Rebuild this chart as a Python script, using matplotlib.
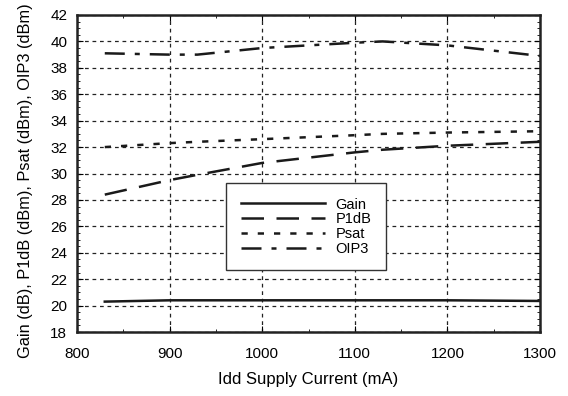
import matplotlib
matplotlib.use("Agg")
import matplotlib.pyplot as plt
from matplotlib.ticker import MultipleLocator

plt.rcParams['font.family'] = ['Liberation Sans', 'DejaVu Sans']

# data
idd = [830, 900, 930, 1000, 1100, 1130, 1200, 1300]
gain = [20.3, 20.4, 20.4, 20.4, 20.4, 20.4, 20.4, 20.35]
p1db = [28.4, 29.5, 29.9, 30.8, 31.6, 31.8, 32.1, 32.4]
psat = [32.0, 32.3, 32.4, 32.6, 32.9, 33.0, 33.1, 33.2]
oip3 = [39.1, 39.0, 39.0, 39.5, 39.9, 40.0, 39.7, 38.9]

fig = plt.figure(figsize=(5.68, 3.96), dpi=100)
ax = fig.add_axes([77 / 568, 1 - 332 / 396, 463 / 568, 317 / 396])

ax.plot(idd, gain, color='#1a1a1a', lw=1.8, ls='-', label='Gain')
ax.plot(idd, p1db, color='#1a1a1a', lw=1.8, ls=(0, (9, 5)), label='P1dB')
ax.plot(idd, psat, color='#1a1a1a', lw=1.8, ls=(0, (2.5, 4)), label='Psat')
ax.plot(idd, oip3, color='#1a1a1a', lw=1.8, ls=(0, (8, 4, 2, 4)), label='OIP3')

ax.set_xlim(800, 1300)
ax.set_ylim(18, 42)
ax.xaxis.set_major_locator(MultipleLocator(100))
ax.xaxis.set_minor_locator(MultipleLocator(50))
ax.yaxis.set_major_locator(MultipleLocator(2))
ax.yaxis.set_minor_locator(MultipleLocator(0.5))
ax.grid(True, which='major', color='#222222', ls=(0, (3, 3)), lw=0.9)
ax.tick_params(which='both', direction='in', top=True, right=True, labelsize=11)
ax.tick_params(which='major', length=4)
ax.tick_params(which='minor', length=2)
ax.tick_params(axis='x', which='major', pad=11)
ax.tick_params(axis='y', which='major', pad=7)
for s in ax.spines.values():
    s.set_linewidth(1.8)
    s.set_color('#222222')

ax.set_xlabel('Idd Supply Current (mA)', fontsize=12, labelpad=8)
ax.set_ylabel('Gain (dB), P1dB (dBm), Psat (dBm), OIP3 (dBm)', fontsize=11.8)
ax.yaxis.set_label_coords(-0.095, 0.476)

leg = ax.legend(loc='upper left', bbox_to_anchor=(149 / 463, 149 / 317), fontsize=10.5,
                frameon=True, fancybox=False, edgecolor='#333333', framealpha=1,
                handlelength=5.8, handletextpad=0.7, borderpad=1.0, borderaxespad=0,
                labelspacing=0.05)
leg.get_frame().set_linewidth(1.0)

fig.savefig('out.png', dpi=100)
